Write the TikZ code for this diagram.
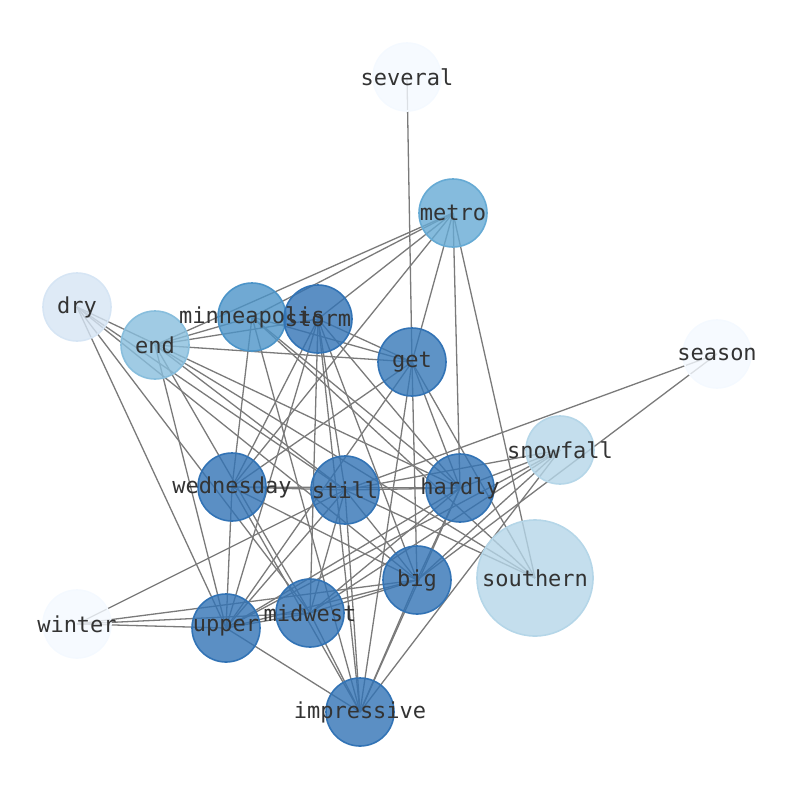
\documentclass[tikz,border=0pt]{standalone}
\usepackage{fontspec}
\setmonofont{DejaVu Sans Mono}
\usetikzlibrary{backgrounds}
\definecolor{labelgray}{HTML}{333333}
\definecolor{edgegray}{HTML}{7A7A7A}
\definecolor{bluedark}{RGB}{50,115,181}
\definecolor{bluemid}{RGB}{76,148,200}
\definecolor{bluemetro}{RGB}{102,170,212}
\definecolor{blueend}{RGB}{136,190,221}
\definecolor{bluelight}{RGB}{181,214,232}
\definecolor{bluepale}{RGB}{214,229,244}
\definecolor{bluewhite}{RGB}{244,249,255}

\tikzset{
  word/.style={circle, minimum size=68pt, inner sep=0pt, fill opacity=0.8, line width=1.6pt},
  wordlabel/.style={font=\ttfamily\fontsize{22}{26}\selectfont, text=labelgray},
  edge/.style={edgegray, line width=1.3pt}
}

\begin{document}
\begin{tikzpicture}[x=1pt,y=-1pt]
\useasboundingbox (0,0) rectangle (794,790);

% word circles
\node[word, fill=bluewhite, draw=bluewhite] (several) at (407,77) {};
\node[word, fill=bluemetro, draw=bluemetro] (metro) at (453,213) {};
\node[word, fill=bluepale, draw=bluepale] (dry) at (77,307) {};
\node[word, fill=bluemid, draw=bluemid] (minneapolis) at (252,317) {};
\node[word, fill=bluedark, draw=bluedark] (storm) at (318,319) {};
\node[word, fill=blueend, draw=blueend] (end) at (155,345) {};
\node[word, fill=bluedark!85!bluemid, draw=bluedark] (get) at (412,362) {};
\node[word, fill=bluewhite, draw=bluewhite] (season) at (717,354) {};
\node[word, fill=bluelight, draw=bluelight] (snowfall) at (560,450) {};
\node[word, fill=bluedark, draw=bluedark] (wednesday) at (232,487) {};
\node[word, fill=bluedark, draw=bluedark] (still) at (345,490) {};
\node[word, fill=bluedark, draw=bluedark] (hardly) at (460,488) {};
\node[word, fill=bluelight, draw=bluelight, minimum size=116pt] (southern) at (535,578) {};
\node[word, fill=bluedark, draw=bluedark] (big) at (417,580) {};
\node[word, fill=bluewhite, draw=bluewhite] (winter) at (77,624) {};
\node[word, fill=bluedark, draw=bluedark] (midwest) at (310,613) {};
\node[word, fill=bluedark, draw=bluedark] (upper) at (226,628) {};
\node[word, fill=bluedark, draw=bluedark] (impressive) at (360,712) {};

% co-occurrence edges, behind the circles
\begin{scope}[on background layer]
\foreach \a/\b in {several/get,
  season/still, season/big,
  winter/still, winter/big, winter/midwest, winter/upper,
  dry/upper, dry/midwest, dry/still, dry/hardly, dry/big,
  metro/end, metro/minneapolis, metro/storm, metro/wednesday, metro/get, metro/hardly, metro/southern,
  end/minneapolis, end/storm, end/get, end/upper, end/midwest, end/southern, end/still,
  minneapolis/get, minneapolis/wednesday, minneapolis/impressive, minneapolis/hardly, minneapolis/southern,
  storm/get, storm/wednesday, storm/upper, storm/midwest, storm/impressive, storm/still, storm/big, storm/hardly,
  get/wednesday, get/upper, get/impressive, get/big, get/hardly, get/southern,
  wednesday/still, wednesday/hardly, wednesday/upper, wednesday/impressive, wednesday/big,
  still/hardly, still/snowfall, still/upper, still/midwest, still/impressive, still/southern, still/big,
  hardly/upper, hardly/midwest, hardly/impressive, hardly/big,
  snowfall/upper, snowfall/midwest, snowfall/big, snowfall/impressive, snowfall/hardly,
  big/upper, big/midwest, big/impressive,
  midwest/impressive, upper/impressive, upper/midwest}
  \draw[edge] (\a.center) -- (\b.center);
\end{scope}

% labels on top
\foreach \w in {several, metro, dry, minneapolis, storm, end, get, season, snowfall,
  wednesday, still, hardly, southern, big, winter, midwest, upper, impressive}
  \node[wordlabel] at (\w) {\w};
\end{tikzpicture}
\end{document}
